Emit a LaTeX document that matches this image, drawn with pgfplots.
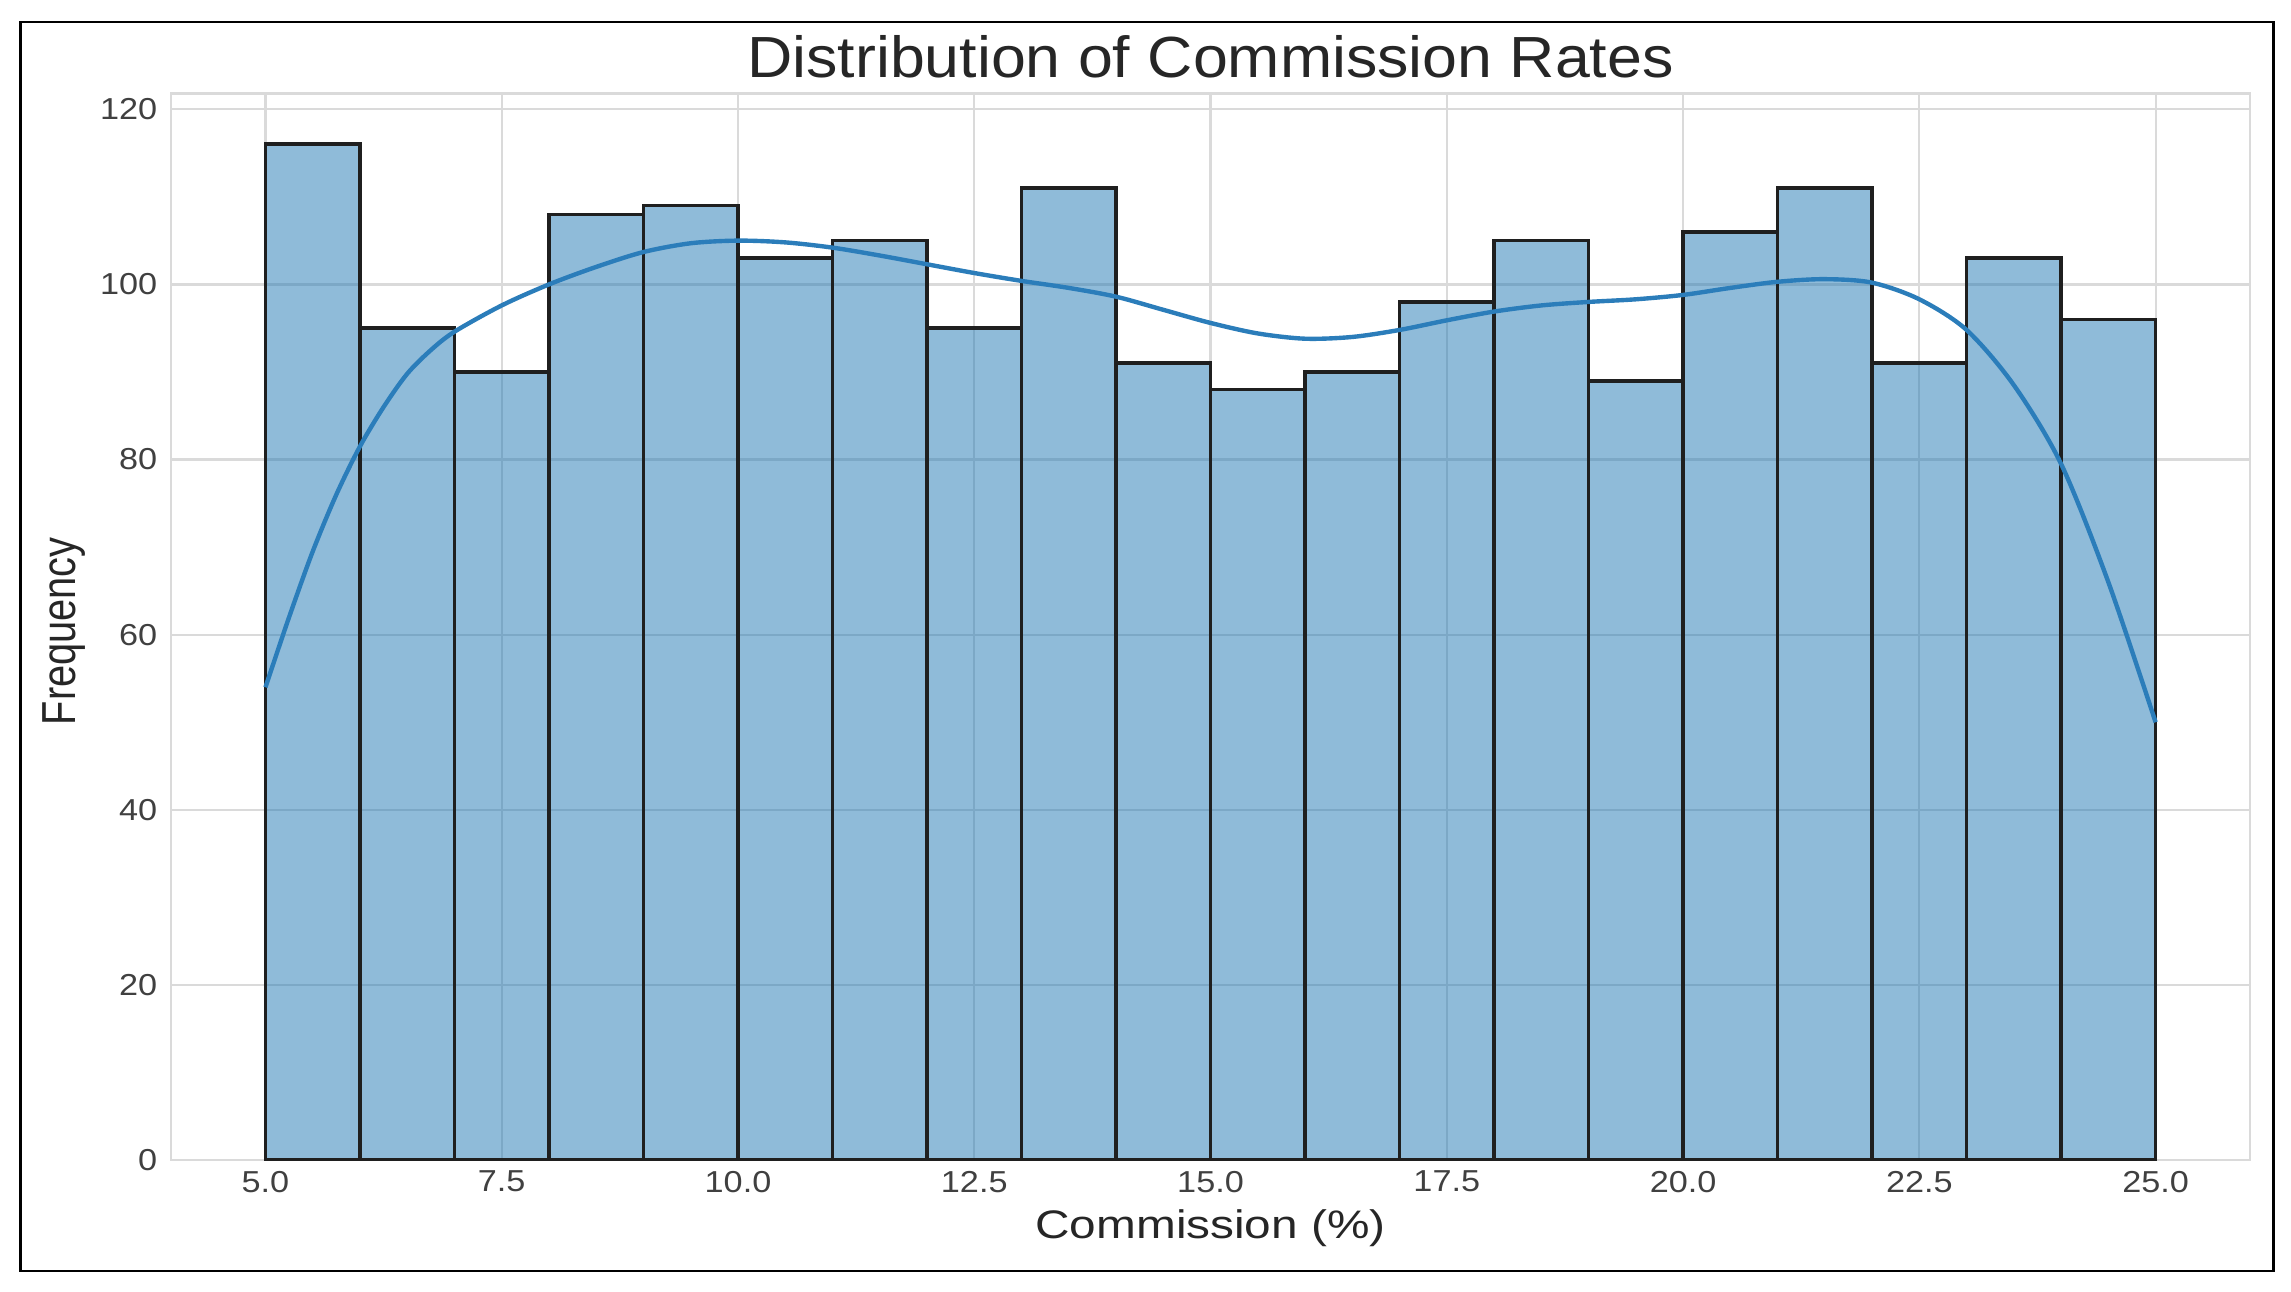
\documentclass[border=0pt]{standalone}
\usepackage{fontspec}
\setmainfont{Liberation Sans}
\usepackage{graphicx}
\usepackage{pgfplots}
\pgfplotsset{compat=1.18}
\definecolor{barblue}{HTML}{1F77B4}
\definecolor{kdeblue}{HTML}{2B7DBA}
\definecolor{gridgray}{HTML}{DADADA}
\definecolor{txt}{HTML}{262626}
\definecolor{ticktxt}{HTML}{404040}
\pgfplotstableread{
x y
5 116
6 95
7 90
8 108
9 109
10 103
11 105
12 95
13 111
14 91
15 88
16 90
17 98
18 105
19 89
20 106
21 111
22 91
23 103
24 96
25 96
}\bins
\pgfplotstableread{
x y
5.0 54
5.25 62
5.5 69.5
5.75 76
6.0 81.5
6.25 86
6.5 89.8
6.75 92.5
7.0 94.6
7.5 97.6
8.0 100
8.5 102
9.0 103.7
9.5 104.7
10.0 105
10.5 104.8
11.0 104.2
11.5 103.3
12.0 102.3
12.5 101.3
13.0 100.4
13.5 99.6
14.0 98.6
14.5 97.1
15.0 95.6
15.5 94.4
16.0 93.8
16.5 94.0
17.0 94.8
17.5 95.9
18.0 96.9
18.5 97.6
19.0 98.0
19.5 98.3
20.0 98.8
20.5 99.6
21.0 100.3
21.5 100.6
22.0 100.2
22.5 98.3
23.0 94.8
23.5 88.5
24.0 79.5
24.5 66
25.0 50
}\kde
\begin{document}
\begin{tikzpicture}
\path (0,0) rectangle (313.6mm,176.8mm);
\draw[black, line width=0.35mm] (2.8mm,2.8mm) rectangle (311.2mm,173.8mm);
\begin{axis}[
  at={(23.4mm,18mm)}, anchor=south west,
  scale only axis, width=284.6mm, height=146mm,
  xmin=4, xmax=26, ymin=0, ymax=121.8,
  xtick={5,7.5,10,12.5,15,17.5,20,22.5,25},
  ytick={0,20,40,60,80,100,120},
  grid=major,
  major grid style={gridgray, line width=0.3mm},
  axis line style={gridgray, line width=0.35mm},
  major tick length=0pt,
  tick style={draw=none},
  /pgf/number format/assume math mode=true,
  tick label style={font=\fontsize{11.8}{12}\selectfont, text=ticktxt},
  xticklabel={\scalebox{1.13}[1]{\pgfmathprintnumber[fixed,fixed zerofill,precision=1]{\tick}}},
  yticklabel={\scalebox{1.13}[1]{\pgfmathprintnumber[fixed,precision=0]{\tick}}},
  xticklabel style={anchor=north, inner sep=0pt, yshift=-1.4mm},
  yticklabel style={anchor=east, inner sep=0pt, xshift=-1.8mm},
  scaled ticks=false,
]
\addplot[ybar interval, fill=barblue, fill opacity=0.5, draw=black!88, line width=0.5mm] table[x=x,y=y] {\bins};
\addplot[kdeblue, line width=0.6mm, smooth, no marks] table[x=x,y=y] {\kde};
\end{axis}
\node[anchor=base, text=txt, font=\fontsize{22.6}{24}\selectfont] at (165.7mm,166.2mm) {\scalebox{1.08}[1]{Distribution of Commission Rates}};
\node[anchor=base, text=txt, font=\fontsize{15.5}{16}\selectfont] at (165.7mm,7.34mm) {\scalebox{1.2}[1]{Commission (\%)}};
\node[anchor=base, rotate=90, text=txt, font=\fontsize{15.5}{16}\selectfont] at (10.27mm,90.4mm) {\scalebox{1}[1.2]{Frequency}};
\end{tikzpicture}
\end{document}
